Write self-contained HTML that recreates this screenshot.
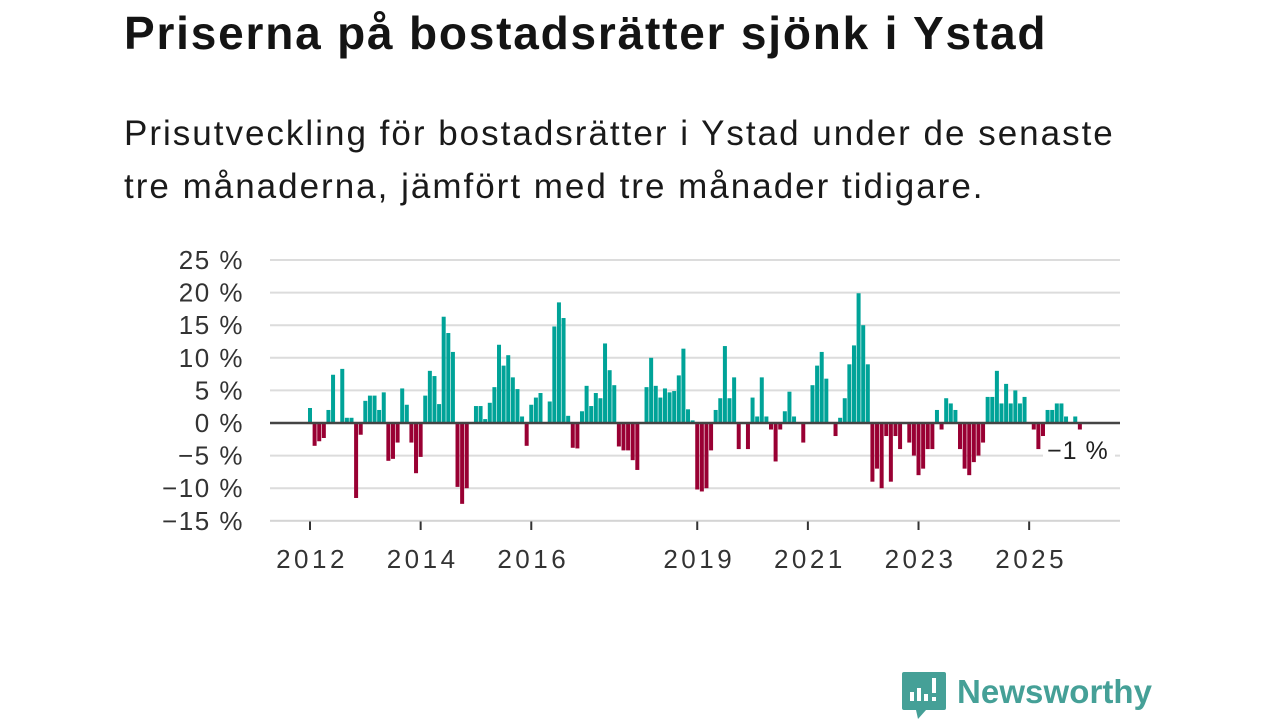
<!DOCTYPE html>
<html><head><meta charset="utf-8">
<style>
body{margin:0;width:1280px;height:720px;background:#fff;overflow:hidden;font-family:"Liberation Sans",sans-serif;color:#111;position:relative}
#title{position:absolute;left:124px;top:6px;font-size:46px;letter-spacing:1.8px;font-weight:bold;margin:0;white-space:nowrap;color:#141414}
#sub{position:absolute;left:124px;top:107px;font-size:35px;letter-spacing:2px;line-height:53px;margin:0;color:#1a1a1a;width:1100px;white-space:nowrap}
svg{position:absolute;left:0;top:0}
</style></head><body>
<h1 id="title">Priserna på bostadsrätter sjönk i Ystad</h1>
<p id="sub">Prisutveckling för bostadsrätter i Ystad under de senaste<br>tre månaderna, jämfört med tre månader tidigare.</p>
<svg id="chart" width="1280" height="720"></svg>
<script>
// month index since Jan 2012
const months=[0,1,2,3,4,5,7,8,9,10,11,12,13,14,15,16,17,18,19,20,21,22,23,24,25,26,27,28,29,30,31,32,33,34,36,37,38,39,40,41,42,43,44,45,46,47,48,49,50,52,53,54,55,56,57,58,59,60,61,62,63,64,65,66,67,68,69,70,71,73,74,75,76,77,78,79,80,81,82,83,84,85,86,87,88,89,90,91,92,93,95,96,97,98,99,100,101,102,103,104,105,107,109,110,111,112,114,115,116,117,118,119,120,121,122,123,124,125,126,127,128,130,131,132,133,134,135,136,137,138,139,140,141,142,143,144,145,146,147,148,149,150,151,152,153,154,155,157,158,159,160,161,162,163,164,166,167];
const values=[2.3,-3.5,-2.8,-2.3,2.0,7.4,8.3,0.8,0.8,-11.5,-1.8,3.4,4.2,4.2,2.0,4.7,-5.8,-5.5,-3.0,5.3,2.8,-3.0,-7.7,-5.2,4.2,8.0,7.2,2.9,16.3,13.8,10.9,-9.8,-12.4,-10.0,2.6,2.6,0.6,3.1,5.5,12.0,8.8,10.4,7.0,5.2,1.0,-3.5,2.8,3.9,4.6,3.3,14.8,18.5,16.1,1.1,-3.8,-3.9,1.8,5.7,2.6,4.6,3.8,12.2,8.1,5.8,-3.6,-4.2,-4.2,-5.7,-7.2,5.5,10.0,5.7,3.9,5.3,4.7,4.9,7.3,11.4,2.1,0.4,-10.2,-10.5,-10.0,-4.2,2.0,3.8,11.8,3.8,7.0,-4.0,-4.0,3.9,1.0,7.0,1.0,-1.0,-5.9,-1.0,1.8,4.8,1.0,-3.0,5.8,8.8,10.9,6.8,-2.0,0.8,3.8,9.0,11.9,19.9,15.0,9.0,-9.0,-7.0,-10.0,-2.0,-9.0,-2.0,-4.0,-3.0,-5.0,-8.0,-7.0,-4.0,-4.0,2.0,-1.0,3.8,3.0,2.0,-4.0,-7.0,-8.0,-6.0,-5.0,-3.0,4.0,4.0,8.0,3.0,6.0,3.0,5.0,3.0,4.0,-1.0,-4.0,-2.0,2.0,2.0,3.0,3.0,1.0,1.0,-1.0];
const yTicks=[25,20,15,10,5,0,-5,-10,-15];
const xTickYears=[2012,2014,2016,2019,2021,2023,2025];
const lastLabel="\u22121 %";

const svg=document.getElementById('chart');
const NS='http://www.w3.org/2000/svg';
const y=v=>423-v*6.52;
const x=m=>310+m*4.61;
function mk(t,a){const e=document.createElementNS(NS,t);for(const k in a)e.setAttribute(k,a[k]);svg.appendChild(e);return e;}
yTicks.forEach(t=>{
  if(t!==0){const g=mk('line',{x1:270,x2:1120,y1:y(t),y2:y(t),stroke:'#dcdcdc','stroke-width':2});
  
  }
  const l=mk('text',{x:244,y:y(t)+9,'text-anchor':'end','font-size':26,'letter-spacing':1.5,fill:'#333','font-family':'Liberation Sans, sans-serif'});
  l.textContent=(t<0?'\u2212'+(-t):t)+' %';
  
  
});
xTickYears.forEach(yr=>{
  const xx=x((yr-2012)*12);
  const tk=mk('line',{x1:xx,x2:xx,y1:521,y2:530,stroke:'#333','stroke-width':2});
  
  
  const l=mk('text',{x:xx+2,y:568,'text-anchor':'middle','font-size':26,'letter-spacing':3.5,fill:'#333','font-family':'Liberation Sans, sans-serif'});
  l.textContent=yr;
  
  
});
mk('line',{x1:270,x2:1120,y1:521,y2:521,stroke:'#ccc','stroke-width':1});
months.forEach((m,i)=>{
  const v=values[i];
  const b=mk('rect',{x:x(m)-2,width:4,y:v>=0?y(v):y(0),height:Math.abs(y(v)-y(0)),fill:v>=0?'#00a398':'#990033'});
  
  
});
const z=mk('line',{x1:270,x2:1120,y1:y(0),y2:y(0),stroke:'#444','stroke-width':2.5});


const bg=mk('rect',{x:1043,y:436,width:72,height:30,fill:'#fff'});


const lv=mk('text',{x:1047,y:459,'font-size':25,'letter-spacing':1,fill:'#222','font-family':'Liberation Sans, sans-serif'});
lv.textContent=lastLabel;


</script>
<svg width="1280" height="720" style="position:absolute;left:0;top:0">
<path d="M904 672 h40 a2 2 0 0 1 2 2 v34 a2 2 0 0 1 -2 2 h-18 l-8 9 l-2 -9 h-12 a2 2 0 0 1 -2 -2 v-34 a2 2 0 0 1 2 -2z" fill="#45a097"/>
<rect x="910" y="692" width="4" height="9" fill="#fff"/><rect x="917" y="688" width="4" height="13" fill="#fff"/><rect x="924" y="694" width="4" height="7" fill="#fff"/><rect x="932" y="678" width="4" height="15" fill="#fff"/><rect x="932" y="697" width="4" height="4" fill="#fff"/>
<text x="957" y="703" font-size="33" font-weight="bold" fill="#45a097" font-family="Liberation Sans, sans-serif" textLength="195">Newsworthy</text>
</svg>
</body></html>
